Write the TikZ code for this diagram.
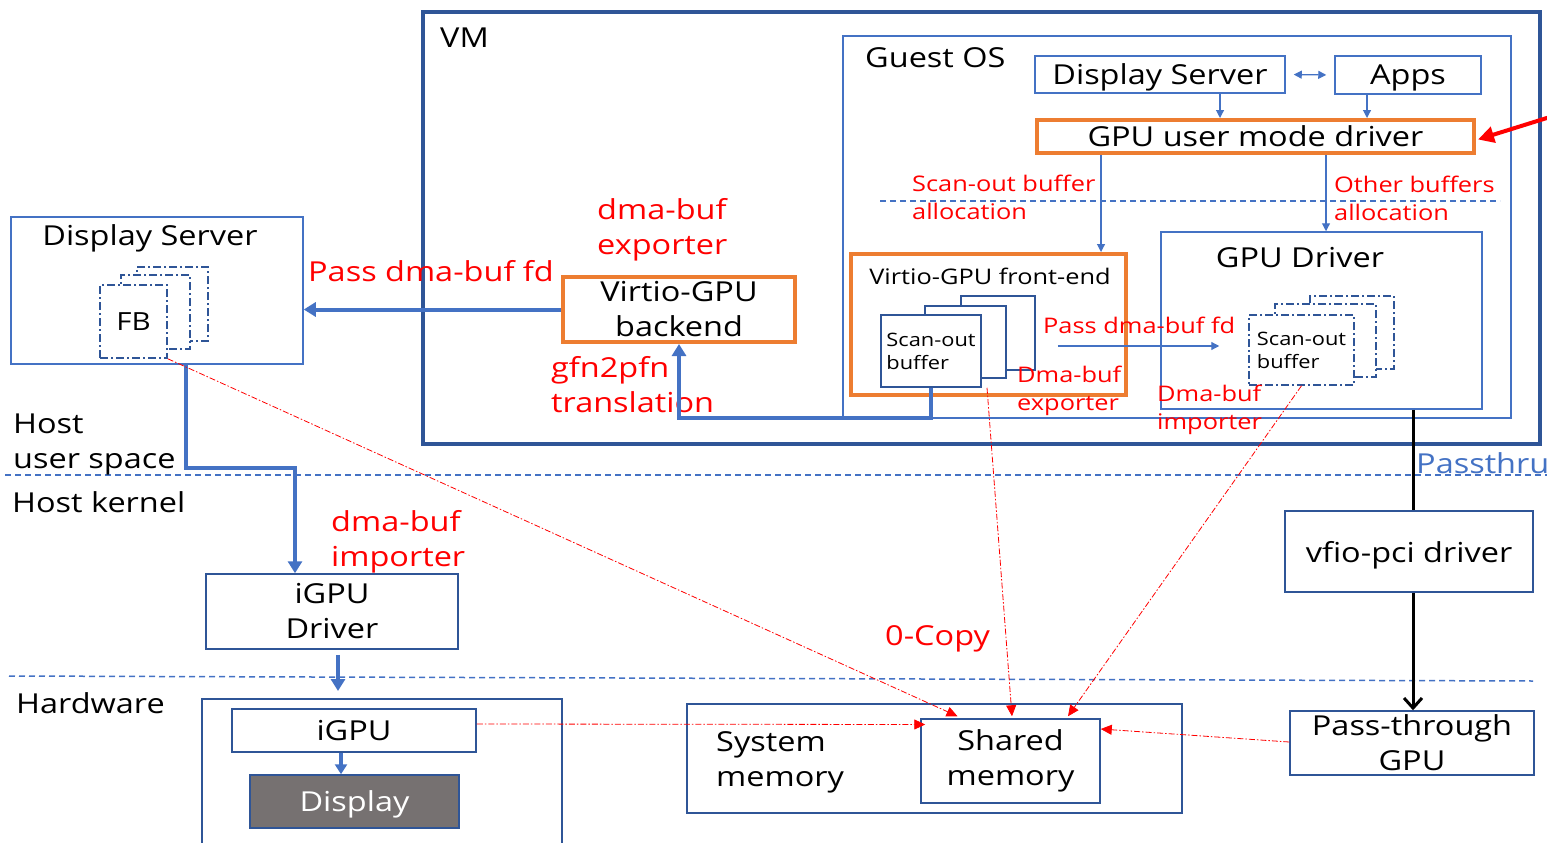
\documentclass[tikz,border=0pt]{standalone}
\usepackage{fontspec}
\setmainfont[FakeStretch=1.18]{Open Sans}
\usetikzlibrary{arrows.meta,positioning}
\definecolor{boxblue}{HTML}{2F5597}
\definecolor{lineblue}{HTML}{4472C4}
\definecolor{boxorange}{HTML}{ED7D31}
\definecolor{dispgrey}{HTML}{767171}
\begin{document}
\begin{tikzpicture}[x=1pt,y=-1pt,
    bigtext/.style={font=\fontsize{27.5}{35}\selectfont},
    midtext/.style={font=\fontsize{21.5}{28}\selectfont},
    smalltext/.style={font=\fontsize{18.5}{23}\selectfont},
    sz/.style 2 args={minimum width=#1pt,minimum height=#2pt},
    oneline/.style={text depth=0pt},
    box/.style={draw=boxblue,line width=1.5pt,fill=white,inner sep=0pt,align=center,bigtext},
    lbox/.style={box,draw=lineblue},
    obox/.style={box,draw=boxorange,line width=4pt},
    buf/.style={draw=boxblue,line width=1.5pt,fill=white,inner sep=0pt,align=left,smalltext},
    dbuf/.style={buf,dash pattern=on 8pt off 3pt on 2pt off 3pt},
    lbl/.style={inner sep=0pt,anchor=west,align=left},
    redlbl/.style={lbl,text=red},
    fat/.style={draw=lineblue,line width=4pt,-{Triangle[width=14pt,length=12pt]}},
    thinarr/.style={draw=lineblue,line width=1.2pt,-{Triangle[width=8pt,length=8pt]}},
    copyarr/.style={draw=red,line width=0.8pt,dash pattern=on 6pt off 2pt on 1.5pt off 2pt,-{Triangle[width=10pt,length=11pt]}},
    sep/.style={draw=lineblue,line width=1.5pt,dash pattern=on 6pt off 4pt}]
    \useasboundingbox (0,0) rectangle (1547,843);

    \node[box,line width=4.5pt,fill=none,sz={1117}{432}] (vm) at (981.5,228) {};
    \node[bigtext,lbl] (vmtxt) at (440,38) {VM};
    \node[lbox,fill=none,sz={668}{382}] (guest) at (1177,227) {};
    \node[bigtext,lbl] (guesttxt) at (865,58) {Guest OS};
    \node[lbox,oneline,sz={250}{37}] (gds) at (1160,74.5) {Display Server};
    \node[lbox,oneline,sz={146}{38}] (apps) at (1408,75) {Apps};
    \node[obox,sz={437}{33}] (umd) at (1255.5,136.5) {GPU user mode driver};
    \draw[sep] (880,201) -- (1500,201);
    \node[redlbl,midtext] (sballoc) at (912,197) {Scan-out buffer\\allocation};
    \node[redlbl,midtext] (oballoc) at (1334,198) {Other buffers\\allocation};

    \node[lbox,fill=none,sz={321}{177}] (gdrv) at (1321.5,320.5) {};
    \node[bigtext] (gdrvtxt) at (1300,258) {GPU Driver};
    \node[dbuf,sz={84}{73}] (gb3) at (1352,332.5) {};
    \node[dbuf,sz={101}{73}] (gb2) at (1325.5,340.5) {};
    \node[dbuf,sz={105}{70}] (gb1) at (1301.5,350) {Scan-out\\buffer};

    \node[obox,fill=none,sz={275}{141}] (vfe) at (988.5,324.5) {};
    \node[midtext] (vfetxt) at (990,276) {Virtio-GPU front-end};
    \node[buf,sz={74}{74}] (vb3) at (998,333) {};
    \node[buf,sz={81}{72}] (vb2) at (965.5,342) {};
    \node[buf,sz={100}{72}] (vb1) at (931,351) {Scan-out\\buffer};
    \node[redlbl,midtext] (passfdg) at (1043,325) {Pass dma-buf fd};
    \node[redlbl,midtext] (dbexp) at (1017,391) {Dma-buf\\exporter};
    \node[redlbl,midtext] (dbimp) at (1157,410) {Dma-buf\\importer};

    \node[obox,sz={232}{65}] (vbe) at (679,309.5) {Virtio-GPU\\backend};
    \node[redlbl,bigtext] (bexp) at (597,230) {dma-buf\\exporter};
    \node[redlbl,bigtext] (gfn) at (551,385) {gfn2pfn\\translation};

    \node[lbox,sz={292}{147}] (hds) at (157,290.5) {};
    \node[bigtext,oneline] (hdstxt) at (150,235) {Display Server};
    \node[dbuf,sz={71}{74}] (fb3) at (172.5,304) {};
    \node[dbuf,sz={69}{74}] (fb2) at (155.5,312) {};
    \node[dbuf,font=\fontsize{25}{30}\selectfont,sz={67}{73}] (fb1) at (133.5,321.5) {FB};
    \node[redlbl,bigtext] (passfdh) at (308,271) {Pass dma-buf fd};

    \draw[sep] (5,475) -- (1547,475);
    \node[lbl,bigtext] (hus) at (13,444) {Host\\user space};
    \node[lbl,bigtext] (hk) at (12,502) {Host kernel};
    \node[lbl,bigtext,text=lineblue] (pthru) at (1416,463) {Passthru};
    \node[box,sz={252}{75}] (igd) at (332,611.5) {iGPU\\Driver};
    \node[redlbl,bigtext] (dbimph) at (331,542) {dma-buf\\importer};
    \node[box,oneline,sz={248}{81}] (vfio) at (1409,551.5) {vfio-pci driver};
    \node[redlbl,bigtext] (zcopy) at (885,639) {0-Copy};

    \draw[sep] (9,676) -- (1533,681);
    \node[lbl,bigtext] (hwtxt) at (16,703) {Hardware};
    \draw[draw=boxblue,line width=1.5pt] (202,850) |- (562,699) -- (562,850);
    \coordinate (hwtop) at (338,691);
    \node[box,oneline,sz={244}{43}] (igpu) at (354,730.5) {iGPU};
    \node[box,oneline,fill=dispgrey,text=white,sz={209}{53}] (disp) at (354.5,801.5) {Display};
    \node[box,fill=none,sz={495}{109}] (sysmem) at (934.5,758.5) {};
    \node[lbl,bigtext] (systxt) at (716,762) {System\\memory};
    \node[box,sz={179}{84}] (shm) at (1010.5,761) {Shared\\memory};
    \node[box,sz={244}{64}] (ptgpu) at (1412,743) {Pass-through\\GPU};

    \draw[draw=lineblue,line width=1.2pt,{Triangle[width=8pt,length=8pt]}-{Triangle[width=8pt,length=8pt]},shorten <=8pt,shorten >=8pt] (gds.east) -- (apps.west);
    \draw[thinarr] ([xshift=60pt]gds.south) -- ([xshift=60pt]gds.south |- umd.north);
    \draw[thinarr] ([xshift=-41pt]apps.south) -- ([xshift=-41pt]apps.south |- umd.north);
    \draw[thinarr] ([xshift=-154.5pt]umd.south) -- ([xshift=-154.5pt]umd.south |- vfe.north);
    \draw[thinarr] ([xshift=70.5pt]umd.south) -- ([xshift=70.5pt]umd.south |- gdrv.north);
    \coordinate (umdin) at (1550,117);
    \draw[red,line width=4pt,-{Triangle[width=16pt,length=16pt]}] (umdin) -- ([xshift=2pt,yshift=-3pt]umd.east);
    \draw[thinarr] ([xshift=22pt,yshift=-13pt]vb3.east) -- ([xshift=-29pt,yshift=4pt]gb1.west);
    \draw[fat] (vb1.south) -- ++(0,30) -| (vbe.south);
    \draw[fat] (vbe.west) -- (vbe.west -| hds.east);
    \draw[fat] ([xshift=29pt]hds.south) -- ++(0,103) -| ([xshift=-37pt]igd.north);
    \draw[fat,shorten <=5pt] ([xshift=6pt]igd.south) -- (hwtop);
    \draw[fat,line width=3.5pt,-{Triangle[width=12pt,length=10pt]}] ([xshift=-13pt]igpu.south) -- ([xshift=-13pt]igpu.south |- disp.north);
    \draw[line width=3pt] ([xshift=91.5pt]gdrv.south) -- ([xshift=91.5pt]gdrv.south |- vfio.north);
    \draw[line width=3pt,-{Straight Barb[length=10pt,width=18pt]}] ([xshift=4pt]vfio.south) -- ([xshift=4pt]vfio.south |- ptgpu.north);

    \draw[copyarr] (fb1.south east) -- ([xshift=-53pt,yshift=2pt]shm.north);
    \draw[copyarr] ([yshift=6.5pt]igpu.east) -- ([xshift=5pt,yshift=36.5pt]shm.west);
    \draw[copyarr] ([xshift=56pt]vb1.south) -- ([xshift=1.5pt,yshift=2pt]shm.north);
    \draw[copyarr] (gb1.south) -- ([xshift=57.5pt,yshift=2pt]shm.north);
    \draw[copyarr] ([yshift=1pt]ptgpu.west) -- ([yshift=32pt]shm.east);
\end{tikzpicture}
\end{document}
